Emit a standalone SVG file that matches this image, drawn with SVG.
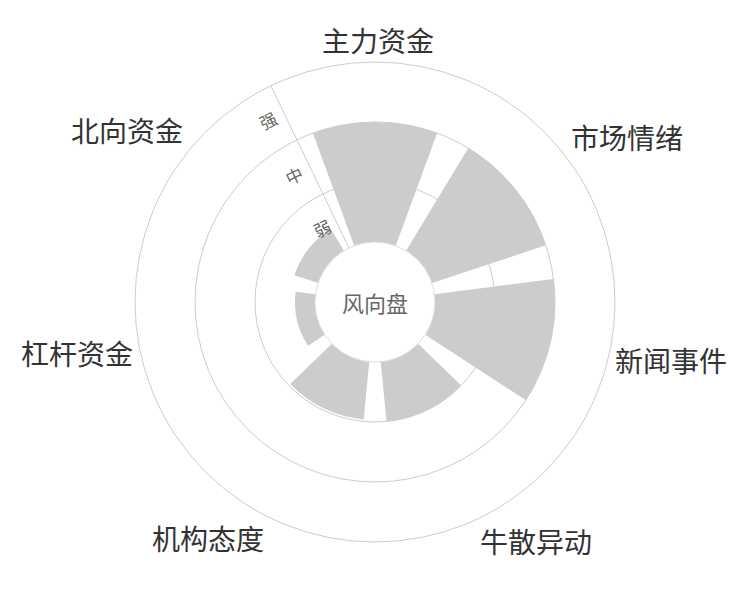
<svg xmlns="http://www.w3.org/2000/svg" width="750" height="600" viewBox="0 0 750 600">
<style>
.grid{fill:none;stroke:#cccccc;stroke-width:1}
.bar{fill:#cccccc;stroke:none}
.cat{font-family:"Noto Sans CJK SC","Noto Sans",sans-serif;font-size:28px;fill:#333;text-anchor:middle;dominant-baseline:central}
.ax{font-family:"Noto Sans CJK SC","Noto Sans",sans-serif;font-size:17px;fill:#666;text-anchor:middle;dominant-baseline:central}
</style>
<rect width="750" height="600" fill="#fff"/>
<g id="grid">
<circle class="grid" cx="375" cy="302" r="240"/>
<circle class="grid" cx="375" cy="302" r="180"/>
<circle class="grid" cx="375" cy="302" r="120"/>
<line class="grid" x1="348.97" y1="247.94" x2="270.87" y2="85.76"/>
</g>
<g id="bars">
<path id="bar-zhuli" class="bar" d="M312.81 133.09 A180 180 0 0 1 437.19 133.09 L395.73 245.70 A60 60 0 0 0 354.27 245.70 Z"/>
<path id="bar-shichang" class="bar" d="M468.28 148.05 A180 180 0 0 1 545.84 245.32 L431.95 283.11 A60 60 0 0 0 406.09 250.68 Z"/>
<path id="bar-xinwen" class="bar" d="M553.52 278.96 A180 180 0 0 1 525.84 400.23 L425.28 334.74 A60 60 0 0 0 434.51 294.32 Z"/>
<path id="bar-niusan" class="bar" d="M461.21 385.47 A120 120 0 0 1 386.50 421.45 L380.75 361.72 A60 60 0 0 0 418.10 343.74 Z"/>
<path id="bar-jigou" class="bar" d="M363.68 419.46 A118 118 0 0 1 290.23 384.09 L331.90 343.74 A60 60 0 0 0 369.25 361.72 Z"/>
<path id="bar-ganggan" class="bar" d="M307.96 345.66 A80 80 0 0 1 295.66 291.75 L315.49 294.31 A60 60 0 0 0 324.72 334.74 Z"/>
<path id="bar-beixiang" class="bar" d="M294.33 275.22 A85 85 0 0 1 330.96 229.30 L343.91 250.68 A60 60 0 0 0 318.05 283.10 Z"/>
</g>
<g id="center">
<circle cx="375" cy="302" r="60" fill="#fff" stroke="#dddddd" stroke-width="1"/>
<text x="375" y="302" style="font-family:'Noto Sans CJK SC','Noto Sans',sans-serif;font-size:22px;fill:#666;text-anchor:middle;dominant-baseline:central">风向盘</text>
</g>
<g id="axis-labels">
<text class="ax" transform="translate(268,120) rotate(-25.7)">强</text>
<text class="ax" transform="translate(294,175) rotate(-25.7)">中</text>
<text class="ax" transform="translate(322,228) rotate(-25.7)">弱</text>
</g>
<g id="categories">
<text class="cat" x="378" y="40">主力资金</text>
<text class="cat" x="627" y="137">市场情绪</text>
<text class="cat" x="671" y="360">新闻事件</text>
<text class="cat" x="536" y="541">牛散异动</text>
<text class="cat" x="208" y="538">机构态度</text>
<text class="cat" x="77" y="353">杠杆资金</text>
<text class="cat" x="127" y="130">北向资金</text>
</g>
</svg>
